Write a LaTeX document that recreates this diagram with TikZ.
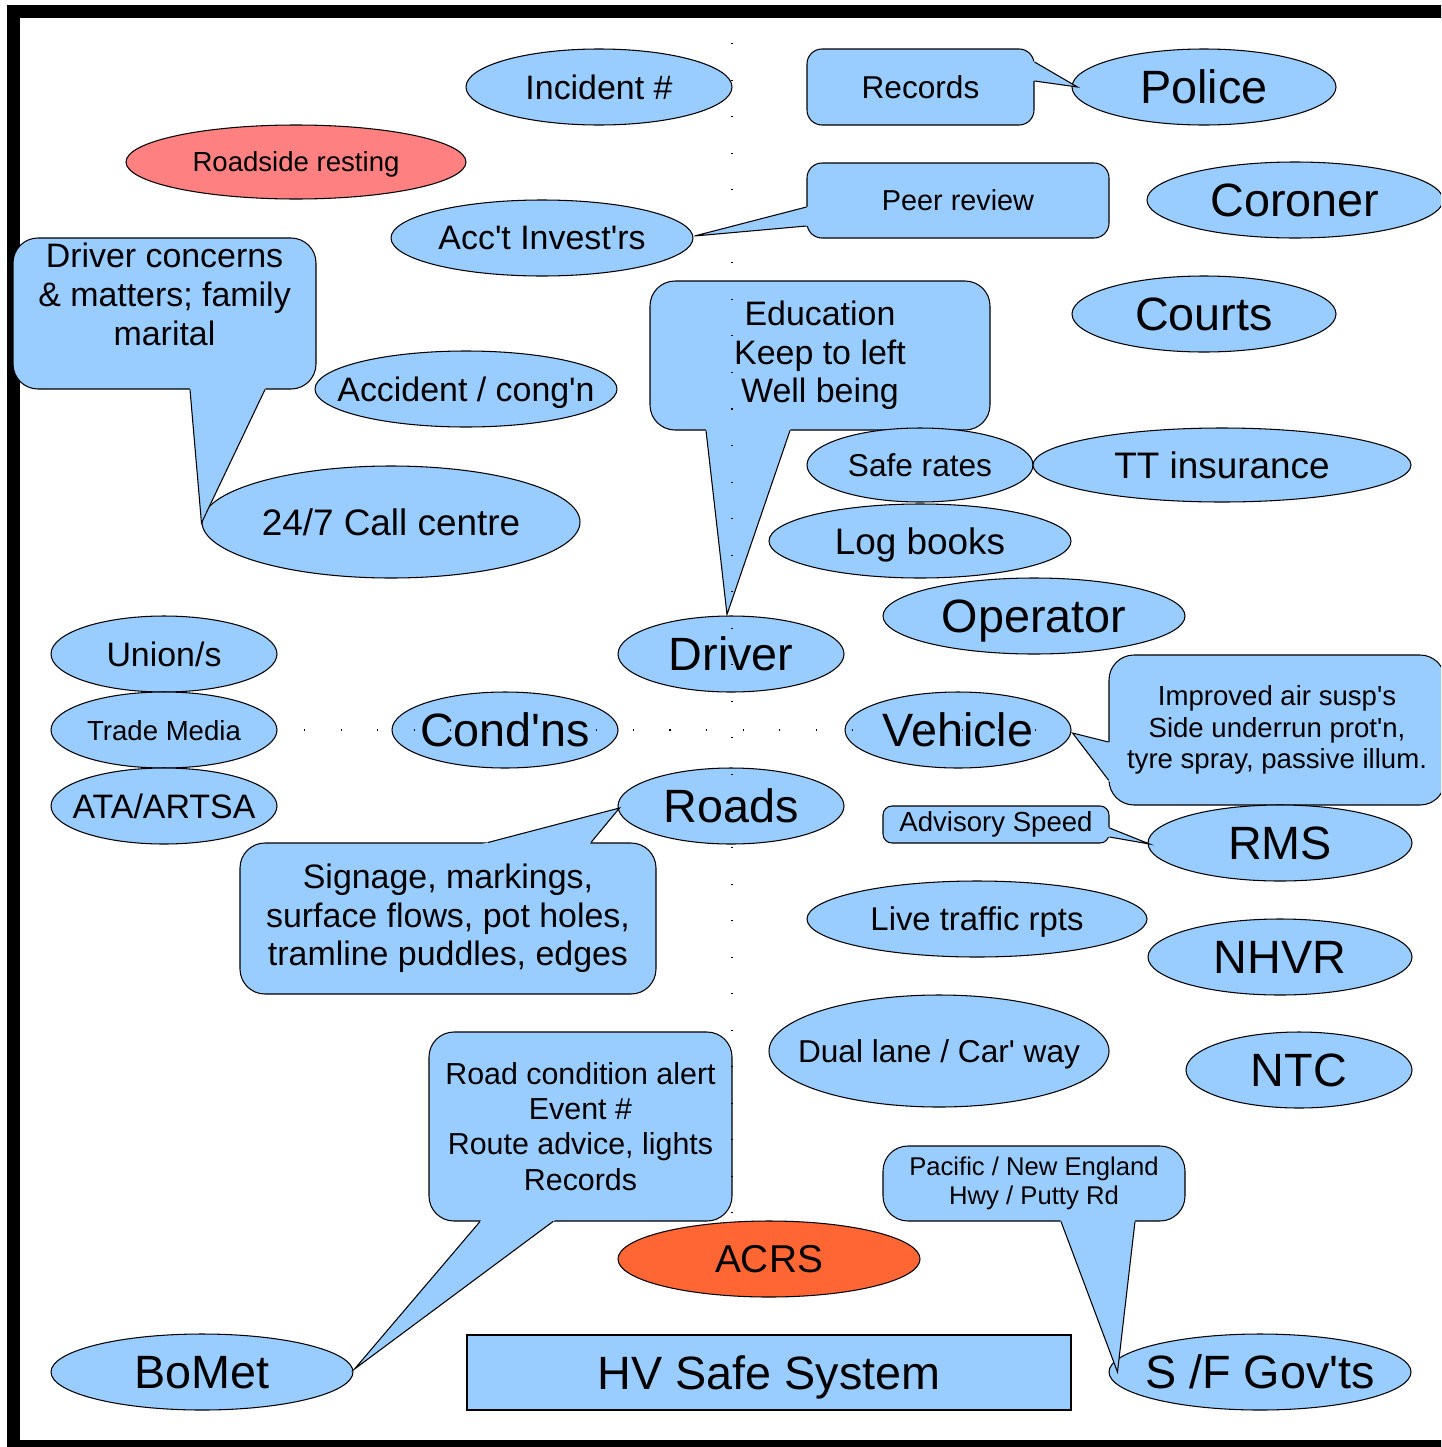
\documentclass[tikz,border=0pt]{standalone}
\usepackage{fontspec}
\setmainfont{Liberation Sans}[Ligatures=TeXOff]
\usetikzlibrary{calc,shapes.geometric}
\definecolor{sky}{HTML}{99CCFF}
\definecolor{rest}{HTML}{FF8080}
\definecolor{acrs}{HTML}{FF6633}
% pointer of a callout: two base points on the box, then the tip
\newcommand{\drawtail}[3]{%
  \fill[sky] (#3) -- ($(#3)!1.06!(#1)$) -- ($(#3)!1.06!(#2)$) -- cycle;
  \draw (#1) -- (#3) -- (#2);}

\begin{document}
\begin{tikzpicture}[x=0.02cm,y=-0.02cm,line width=0.6pt,
  sz/.style 2 args={minimum width=#1*0.02cm,minimum height=#2*0.02cm},
  blob/.style={ellipse,draw,fill=sky,inner sep=0pt,text depth=0pt,
    execute at begin node={\hbox to 0pt\bgroup\hss},
    execute at end node={\hss\egroup}},
  note/.style={rectangle,draw,fill=sky,rounded corners=0.5cm,align=center,inner sep=0pt},
  guide/.style={line width=0.6pt,dash pattern=on 0.6pt off 20.2pt},
  t47/.style={font=\fontsize{26.6}{30}\selectfont},
  t39/.style={font=\fontsize{22.1}{25}\selectfont},
  t37/.style={font=\fontsize{21}{24}\selectfont},
  t34/.style={font=\fontsize{19.3}{22}\selectfont},
  t33/.style={font=\fontsize{18.7}{21.3}\selectfont},
  t32/.style={font=\fontsize{18}{20.5}\selectfont},
  t30/.style={font=\fontsize{17.3}{20}\selectfont},
  t29/.style={font=\fontsize{16.4}{18.7}\selectfont},
  t28/.style={font=\fontsize{15.7}{17.9}\selectfont},
  t26/.style={font=\fontsize{14.6}{16.4}\selectfont}]
  \useasboundingbox (0,0) rectangle (1441,1447);
  \clip (0,0) rectangle (1441,1447);
  \fill[white] (0,0) rectangle (1441,1447);
  \draw[line width=0.26cm] (13.5,11.5) rectangle (1500,1446.5);

  \node[blob,sz={266}{76},t34] (incident) at (599,87) {Incident \#};
  \node[note,sz={227}{76},t32,rounded corners=0.3cm] (records) at (920.5,87) {Records};
  \node[blob,sz={264}{76},t47] (police) at (1204,87) {Police};
  \node[blob,fill=rest,sz={340}{74},t28] (resting) at (296,162) {Roadside resting};
  \node[note,sz={302}{75},t29,rounded corners=0.3cm] (peer) at (958,200.5) {Peer review};
  \node[blob,sz={296}{76},t47] (coroner) at (1295,200) {Coroner};
  \node[blob,sz={302}{76},t34] (invest) at (542,238) {Acc't Invest'rs};
  \node[note,sz={303}{151},t34] (concerns) at (164.5,313.5) {Driver concerns\\\& matters; family\\marital\\\mbox{}};
  \node[blob,sz={264}{76},t47] (courts) at (1204,314) {Courts};
  \node[note,sz={340}{149},t34] (edu) at (820,355.5) {Education\\Keep to left\\Well being};
  \node[blob,sz={302}{76},t34] (accident) at (466,389) {Accident / cong'n};
  \node[blob,sz={226}{74},t32] (rates) at (920,465) {Safe rates};
  \node[blob,sz={378}{74},t37] (ttins) at (1222,465) {TT insurance};
  \node[blob,sz={378}{112},t37] (callc) at (391,522) {24/7 Call centre};
  \node[blob,sz={302}{74},t37] (logs) at (920,541) {Log books};
  \node[blob,sz={302}{76},t47] (operator) at (1034,616) {Operator};
  \node[blob,sz={226}{76},t47] (driver) at (731,654) {Driver};
  \node[blob,sz={226}{76},t34] (union) at (164,654) {Union/s};
  \node[blob,sz={226}{76},t28] (media) at (164,730) {Trade Media};
  \node[blob,sz={226}{76},t47] (condns) at (505,730) {Cond'ns};
  \node[blob,sz={226}{76},t47] (vehicle) at (958,730) {Vehicle};
  \node[note,sz={336}{150},t28] (improved) at (1277,730) {Improved air susp's\\Side underrun prot'n,\\tyre spray, passive illum.};
  \node[blob,sz={226}{76},t34] (ata) at (164,806) {ATA/ARTSA};
  \node[blob,sz={226}{76},t47] (roads) at (731,806) {Roads};
  \node[note,sz={416}{151},t34] (signage) at (448,918.5) {Signage, markings,\\surface flows, pot holes,\\tramline puddles, edges};
  \node[note,sz={226}{37},t28,rounded corners=0.18cm] (advisory) at (996,824.5) {Advisory Speed};
  \node[blob,sz={264}{76},t47] (rms) at (1280,843) {RMS};
  \node[blob,sz={340}{76},t33] (live) at (977,919) {Live traffic rpts};
  \node[blob,sz={264}{76},t47] (nhvr) at (1280,957) {NHVR};
  \node[blob,sz={340}{112},t32] (dual) at (939,1051) {Dual lane / Car' way};
  \node[blob,sz={226}{76},t47] (ntc) at (1299,1070) {NTC};
  \node[note,sz={303}{189},t30] (alert) at (580.5,1126.5) {Road condition alert\\Event \#\\Route advice, lights\\Records};
  \node[note,sz={302}{75},t26] (pacific) at (1034,1183.5) {Pacific / New England\\Hwy / Putty Rd};
  \node[blob,fill=acrs,sz={302}{76},t39] (acrs) at (769,1259) {ACRS};
  \node[blob,sz={302}{76},t47] (bomet) at (202,1372) {BoMet};
  \node[rectangle,draw,fill=sky,sz={604}{75},t47,text depth=0pt] (hv) at (769,1372.5) {HV Safe System};
  \node[blob,sz={302}{76},t47] (sfgov) at (1260,1372) {S /F Gov'ts};

  % callout pointers
  \coordinate (rec-a) at ($(records.east)+(0,-25)$);
  \coordinate (rec-b) at ($(records.east)+(0,-6)$);
  \coordinate (rec-t) at ($(police.west)+(6,0)$);
  \drawtail{rec-a}{rec-b}{rec-t}
  \coordinate (peer-a) at ($(peer.west)+(0,6.5)$);
  \coordinate (peer-b) at ($(peer.west)+(0,25.5)$);
  \coordinate (peer-t) at ($(invest.east)+(1,-2)$);
  \drawtail{peer-a}{peer-b}{peer-t}
  \coordinate (con-a) at ($(concerns.south)+(25.5,0)$);
  \coordinate (con-b) at ($(concerns.south)+(100.5,0)$);
  \coordinate (con-t) at ($(callc.west)+(0,1)$);
  \drawtail{con-a}{con-b}{con-t}
  \coordinate (edu-a) at ($(edu.south)+(-114,0)$);
  \coordinate (edu-b) at ($(edu.south)+(-30,0)$);
  \coordinate (edu-t) at ($(driver.north)+(-4,-1)$);
  \drawtail{edu-a}{edu-b}{edu-t}
  \coordinate (sig-a) at ($(signage.north)+(40,0)$);
  \coordinate (sig-b) at ($(signage.north)+(143,0)$);
  \coordinate (sig-t) at ($(roads.west)+(2,2)$);
  \drawtail{sig-a}{sig-b}{sig-t}
  \coordinate (imp-a) at ($(improved.west)+(0,12)$);
  \coordinate (imp-b) at ($(improved.west)+(0,50)$);
  \coordinate (imp-t) at ($(vehicle.east)+(1,3)$);
  \drawtail{imp-a}{imp-b}{imp-t}
  \coordinate (adv-a) at ($(advisory.east)+(0,3.5)$);
  \coordinate (adv-b) at ($(advisory.east)+(0,12.5)$);
  \coordinate (adv-t) at ($(rms.west)+(2,1)$);
  \drawtail{adv-a}{adv-b}{adv-t}
  \coordinate (alr-a) at ($(alert.south)+(-100.5,0)$);
  \coordinate (alr-b) at ($(alert.south)+(-27.5,0)$);
  \coordinate (alr-t) at ($(bomet.east)+(1,-3)$);
  \drawtail{alr-a}{alr-b}{alr-t}
  \coordinate (pac-a) at ($(pacific.south)+(27,0)$);
  \coordinate (pac-b) at ($(pacific.south)+(101,0)$);
  \coordinate (pac-t) at ($(sfgov.west)+(9,0)$);
  \drawtail{pac-a}{pac-b}{pac-t}

  % faint dotted guides
  \coordinate (vtop) at (732,43);
  \coordinate (vbot) at (732,1240);
  \coordinate (hleft) at (304,730);
  \coordinate (hright) at (1040,730);
  \draw[guide] (vtop) -- (vbot);
  \draw[guide] (hleft) -- (hright);
\end{tikzpicture}
\end{document}
